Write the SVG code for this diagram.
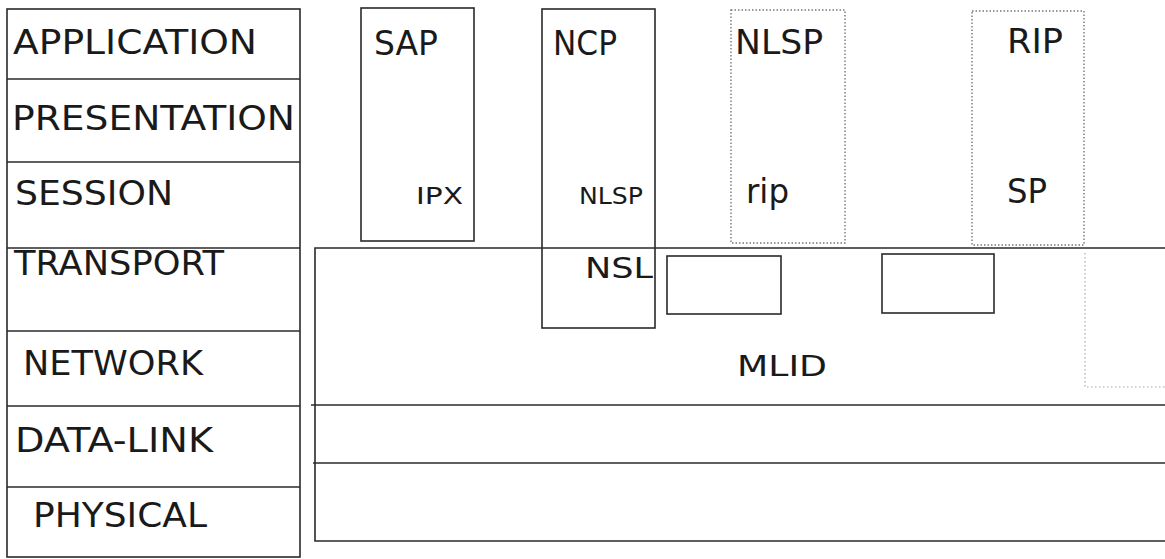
<svg xmlns="http://www.w3.org/2000/svg" width="1165" height="559" viewBox="0 0 1165 559">
<style>
.box{fill:none;stroke:#2a2a2a;stroke-width:1.6}
.dot{fill:none;stroke:#777;stroke-width:1.4;stroke-dasharray:1.5 2}
.faint{fill:none;stroke:#aaa;stroke-width:1.2;stroke-dasharray:1.5 2.5}
text{font-family:"DejaVu Sans","Liberation Sans",sans-serif;fill:#1a1a1a}
.big{font-size:34px}
.mid{font-size:29px}
.sm{font-size:23px}
</style>
<rect width="1165" height="559" fill="#fff"/>
<g id="osi-layers">
  <rect class="box" x="7" y="9" width="293" height="548"/>
  <line class="box" x1="7" y1="79" x2="300" y2="79"/>
  <line class="box" x1="7" y1="162" x2="300" y2="162"/>
  <line class="box" x1="7" y1="248" x2="300" y2="248"/>
  <line class="box" x1="7" y1="331" x2="300" y2="331"/>
  <line class="box" x1="7" y1="406" x2="300" y2="406"/>
  <line class="box" x1="7" y1="487" x2="300" y2="487"/>
  <text class="big" x="13" y="54" textLength="244" lengthAdjust="spacingAndGlyphs">APPLICATION</text>
  <text class="big" x="12" y="130" textLength="283" lengthAdjust="spacingAndGlyphs">PRESENTATION</text>
  <text class="big" x="15" y="205" textLength="158" lengthAdjust="spacingAndGlyphs">SESSION</text>
  <text class="big" x="14" y="275" textLength="210" lengthAdjust="spacingAndGlyphs">TRANSPORT</text>
  <text class="big" x="23" y="375" textLength="180" lengthAdjust="spacingAndGlyphs">NETWORK</text>
  <text class="big" x="15" y="452" textLength="198" lengthAdjust="spacingAndGlyphs">DATA-LINK</text>
  <text class="big" x="33" y="527" textLength="174" lengthAdjust="spacingAndGlyphs">PHYSICAL</text>
</g>
<g id="mlid">
  <path class="box" d="M1165 248 H315 V541 H1165"/>
  <line class="box" x1="311" y1="405" x2="1165" y2="405"/>
  <line class="box" x1="313" y1="463" x2="1165" y2="463"/>
  <text class="mid" x="737" y="376" textLength="90" lengthAdjust="spacingAndGlyphs">MLID</text>
</g>
<g id="sap">
  <rect class="box" x="361" y="8" width="113" height="233"/>
  <text class="big" x="374" y="55" textLength="64" lengthAdjust="spacingAndGlyphs">SAP</text>
  <text class="sm" x="416" y="204" textLength="47" lengthAdjust="spacingAndGlyphs">IPX</text>
</g>
<g id="ncp">
  <rect class="box" x="542" y="9" width="113" height="319"/>
  <text class="big" x="553" y="55" textLength="64" lengthAdjust="spacingAndGlyphs">NCP</text>
  <text class="sm" x="579" y="204" textLength="64" lengthAdjust="spacingAndGlyphs">NLSP</text>
  <text class="mid" x="585" y="278" textLength="68" lengthAdjust="spacingAndGlyphs">NSL</text>
</g>
<g id="nlsp">
  <rect class="dot" x="731" y="10" width="114" height="233"/>
  <text class="big" x="735" y="54" textLength="88" lengthAdjust="spacingAndGlyphs">NLSP</text>
  <text class="big" x="746" y="203" textLength="43" lengthAdjust="spacingAndGlyphs">rip</text>
</g>
<g id="rip">
  <rect class="dot" x="972" y="11" width="112" height="234"/>
  <text class="big" x="1007" y="53" textLength="56" lengthAdjust="spacingAndGlyphs">RIP</text>
  <text class="big" x="1007" y="203" textLength="40" lengthAdjust="spacingAndGlyphs">SP</text>
</g>
<g id="box1">
  <rect class="box" x="667" y="256" width="114" height="58"/>
</g>
<g id="box2">
  <rect class="box" x="882" y="254" width="112" height="59"/>
</g>
<g id="dotted-region">
  <path class="faint" d="M1085 253 V387 H1165"/>
</g>
<g id="connectors"/>
</svg>
